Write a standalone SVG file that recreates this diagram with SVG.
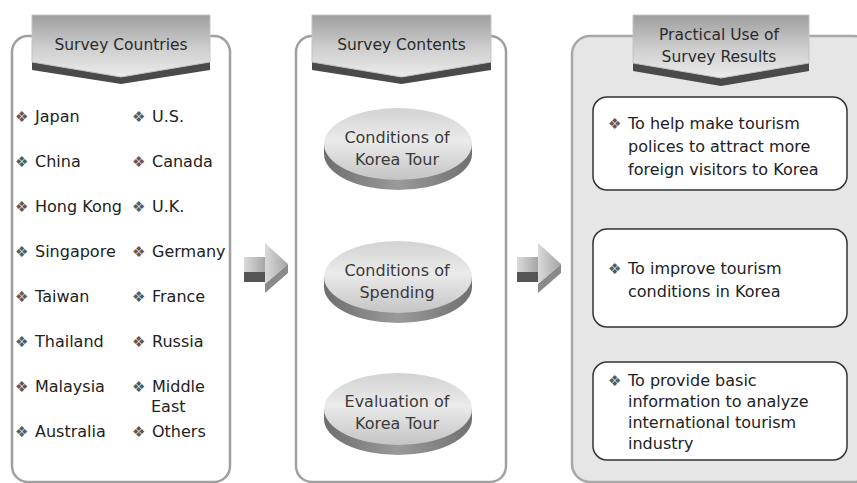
<svg xmlns="http://www.w3.org/2000/svg" width="857" height="483" viewBox="0 0 857 483">
<defs>
<linearGradient id="tabG" x1="0" y1="0" x2="0" y2="1">
<stop offset="0" stop-color="#9e9e9e"/>
<stop offset="0.55" stop-color="#cfcfcf"/>
<stop offset="1" stop-color="#ececec"/>
</linearGradient>
<linearGradient id="topG" x1="0" y1="0" x2="0" y2="1">
<stop offset="0" stop-color="#d2d2d2"/>
<stop offset="0.45" stop-color="#ebebeb"/>
<stop offset="1" stop-color="#c4c4c4"/>
</linearGradient>
<linearGradient id="sideG" x1="0" y1="0" x2="1" y2="0">
<stop offset="0" stop-color="#6e6e6e"/>
<stop offset="0.5" stop-color="#9a9a9a"/>
<stop offset="1" stop-color="#707070"/>
</linearGradient>
<linearGradient id="arrG" x1="0" y1="0" x2="1" y2="0">
<stop offset="0" stop-color="#dadada"/>
<stop offset="1" stop-color="#a4a4a4"/>
</linearGradient>
</defs>
<style>
.panel{fill:#fff;stroke:#a0a0a0;stroke-width:2.5}
.panelR{fill:#e6e6e6;stroke:#a8a8a8;stroke-width:2.5}
.tab{fill:url(#tabG);stroke:#c4c4c4;stroke-width:1}
.tabS{fill:#4a4a4a}
.hd{font-family:"DejaVu Sans",sans-serif;font-size:15.5px;fill:#2a2a2a;text-anchor:middle}
.t{font-family:"DejaVu Sans",sans-serif;font-size:16px;fill:#222}
.b{font-size:15px;fill:#5a5a5a}
.et{font-family:"DejaVu Sans",sans-serif;font-size:16px;fill:#3a3a3a;text-anchor:middle}
.top{fill:url(#topG)}
.side{fill:url(#sideG)}
.box{fill:#fff;stroke:#333;stroke-width:1.5}
.aL{fill:url(#arrG)}
.aD{fill:#555}
.aS{fill:#8a8a8a}
</style>

<g id="panel-countries">
<rect class="panel" x="12" y="36" width="218" height="446" rx="16"/>
<polygon class="tabS" points="32,61 210,61 210,70 121,84 32,70"/>
<polygon class="tab" points="32,15 210,15 210,62 121,77 32,62"/>
<text class="hd" x="121" y="50">Survey Countries</text>
<g class="t">
<text y="122"><tspan x="15" class="b">❖</tspan><tspan x="35">Japan</tspan></text>
<text y="167"><tspan x="15" class="b">❖</tspan><tspan x="35">China</tspan></text>
<text y="212"><tspan x="15" class="b">❖</tspan><tspan x="35">Hong Kong</tspan></text>
<text y="257"><tspan x="15" class="b">❖</tspan><tspan x="35">Singapore</tspan></text>
<text y="302"><tspan x="15" class="b">❖</tspan><tspan x="35">Taiwan</tspan></text>
<text y="347"><tspan x="15" class="b">❖</tspan><tspan x="35">Thailand</tspan></text>
<text y="392"><tspan x="15" class="b">❖</tspan><tspan x="35">Malaysia</tspan></text>
<text y="437"><tspan x="15" class="b">❖</tspan><tspan x="35">Australia</tspan></text>
<text y="122"><tspan x="132" class="b">❖</tspan><tspan x="152">U.S.</tspan></text>
<text y="167"><tspan x="132" class="b">❖</tspan><tspan x="152">Canada</tspan></text>
<text y="212"><tspan x="132" class="b">❖</tspan><tspan x="152">U.K.</tspan></text>
<text y="257"><tspan x="132" class="b">❖</tspan><tspan x="152">Germany</tspan></text>
<text y="302"><tspan x="132" class="b">❖</tspan><tspan x="152">France</tspan></text>
<text y="347"><tspan x="132" class="b">❖</tspan><tspan x="152">Russia</tspan></text>
<text y="392"><tspan x="132" class="b">❖</tspan><tspan x="152">Middle</tspan><tspan x="151" y="412">East</tspan></text>
<text y="437"><tspan x="132" class="b">❖</tspan><tspan x="152">Others</tspan></text>
</g>
</g>

<g id="panel-contents">
<rect class="panel" x="296" y="36" width="210" height="446" rx="16"/>
<polygon class="tabS" points="312,61 491,61 491,70 401.5,84 312,70"/>
<polygon class="tab" points="312,15 491,15 491,62 401.5,77 312,62"/>
<text class="hd" x="401.5" y="50">Survey Contents</text>
</g>

<g id="content-1">
<path class="side" d="M324,144 v10 a74,36 0 0 0 148,0 v-10 z"/>
<ellipse class="top" cx="398" cy="144" rx="74" ry="36"/>
<text class="et" x="397" y="143">Conditions of</text>
<text class="et" x="397" y="165">Korea Tour</text>
</g>
<g id="content-2">
<path class="side" d="M324,277 v10 a74,36 0 0 0 148,0 v-10 z"/>
<ellipse class="top" cx="398" cy="277" rx="74" ry="36"/>
<text class="et" x="397" y="276">Conditions of</text>
<text class="et" x="397" y="298">Spending</text>
</g>
<g id="content-3">
<path class="side" d="M324,409 v10 a74,36 0 0 0 148,0 v-10 z"/>
<ellipse class="top" cx="398" cy="409" rx="74" ry="36"/>
<text class="et" x="397" y="407">Evaluation of</text>
<text class="et" x="397" y="429">Korea Tour</text>
</g>

<g id="panel-results">
<rect class="panelR" x="572" y="36" width="300" height="446" rx="18"/>
<polygon class="tabS" points="633,62 809,62 809,71 721,86 633,71"/>
<polygon class="tab" points="633,15 809,15 809,63 721,78 633,63"/>
<text class="hd" x="719" y="40">Practical Use of</text>
<text class="hd" x="719" y="62">Survey Results</text>
</g>

<g id="result-1">
<rect class="box" x="593" y="97" width="254" height="93" rx="14"/>
<text class="t" y="129"><tspan x="608" class="b">❖</tspan><tspan x="628">To help make tourism</tspan><tspan x="628" y="152">polices to attract more</tspan><tspan x="628" y="175">foreign visitors to Korea</tspan></text>
</g>
<g id="result-2">
<rect class="box" x="593" y="229" width="254" height="98" rx="14"/>
<text class="t" y="274"><tspan x="608" class="b">❖</tspan><tspan x="628">To improve tourism</tspan><tspan x="628" y="297">conditions in Korea</tspan></text>
</g>
<g id="result-3">
<rect class="box" x="593" y="362" width="254" height="98" rx="14"/>
<text class="t" y="386"><tspan x="608" class="b">❖</tspan><tspan x="628">To provide basic</tspan><tspan x="628" y="407">information to analyze</tspan><tspan x="628" y="428">international tourism</tspan><tspan x="628" y="449">industry</tspan></text>
</g>

<g id="connectors">
<g transform="translate(244,243)">
<rect class="aL" x="0" y="14" width="22" height="15"/>
<rect class="aD" x="0" y="29" width="22" height="10"/>
<polygon class="aS" points="44,21 44,30 21,50 21,41"/>
<polygon class="aL" points="21,0 44,21 21,41"/>
</g>
<g transform="translate(517,243)">
<rect class="aL" x="0" y="14" width="22" height="15"/>
<rect class="aD" x="0" y="29" width="22" height="10"/>
<polygon class="aS" points="44,21 44,30 21,50 21,41"/>
<polygon class="aL" points="21,0 44,21 21,41"/>
</g>
</g>
</svg>
